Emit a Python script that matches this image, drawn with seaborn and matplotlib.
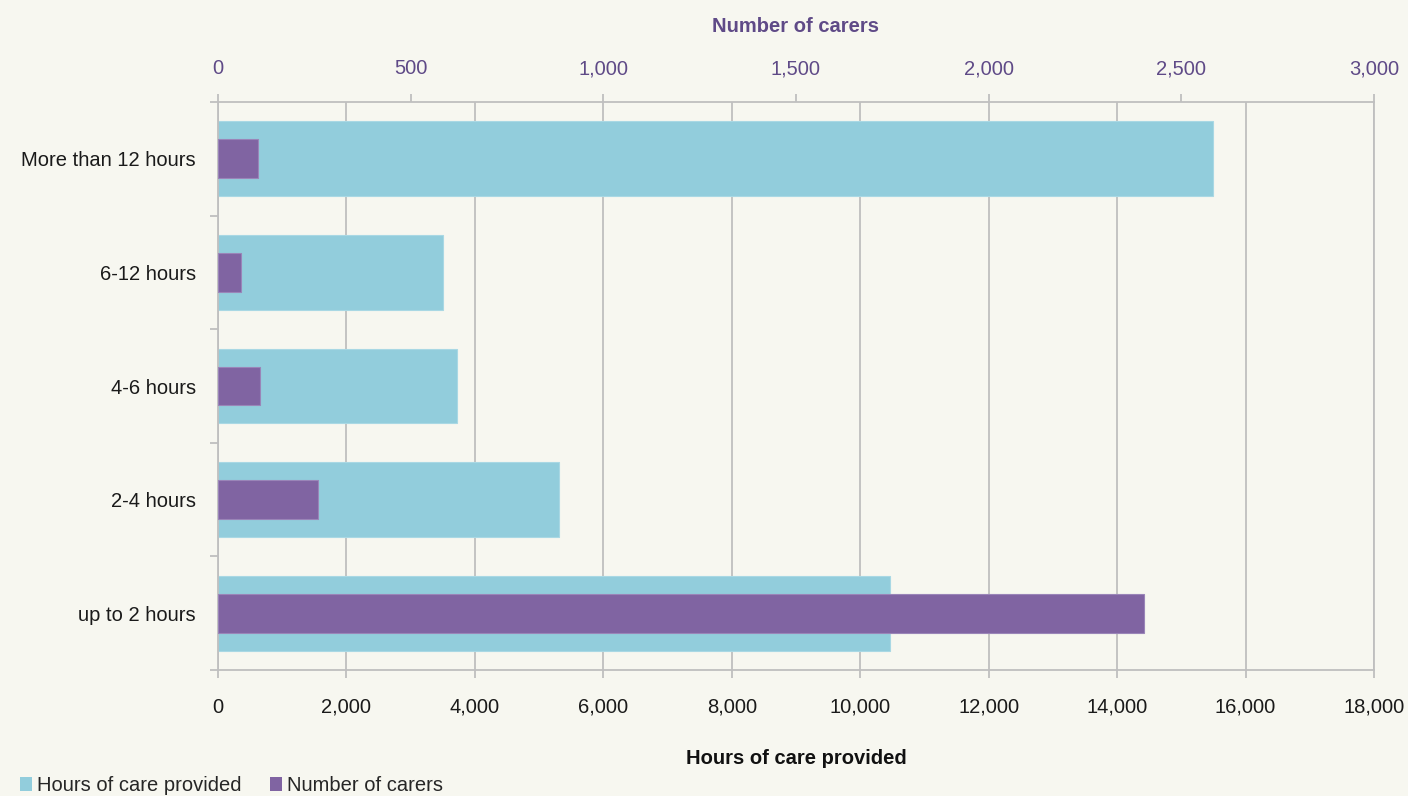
import matplotlib
matplotlib.use("Agg")
import matplotlib.pyplot as plt
import seaborn as sns
import pandas as pd
import numpy as np
from matplotlib.patches import Patch
from matplotlib.ticker import FuncFormatter, MultipleLocator, FixedLocator

categories = ["More than 12 hours", "6-12 hours", "4-6 hours", "2-4 hours", "up to 2 hours"]
hours_of_care = [15500, 3505, 3725, 5305, 10460]
number_of_carers = [104, 59, 108, 259, 2404]

BG = "#F7F7F0"
BLUE = "#92CDDC"
PURPLE = "#8064A2"
GRID = "#BFBFBF"
PURPLE_TXT = "#5F4A87"
FS = 14.5

sns.set_theme(style="white")
plt.rcParams["font.family"] = ["Liberation Sans", "DejaVu Sans"]

df = pd.DataFrame({"category": categories, "hours": hours_of_care, "carers": number_of_carers})

fig = plt.figure(figsize=(14.08, 7.96), dpi=100, facecolor=BG)
ax = fig.add_axes([218 / 1408, 1 - 670 / 796, (1374 - 218) / 1408, (670 - 102) / 796])
ax.set_facecolor(BG)

sns.barplot(data=df, x="hours", y="category", order=categories, color=BLUE,
            width=0.66, orient="h", ax=ax, zorder=2, saturation=1,
            edgecolor="#A9D8E4", linewidth=0.8)
ax.set_xlim(0, 18000)
ax.set_ylim(4.5, -0.5)
ax.xaxis.set_major_locator(MultipleLocator(2000))
ax.xaxis.set_major_formatter(FuncFormatter(lambda v, p: f"{int(v):,}"))
ax.grid(axis="x", color=GRID, linewidth=1.3, zorder=0)
ax.set_axisbelow(True)

ax2 = ax.twiny()
sns.barplot(data=df, x="carers", y="category", order=categories, color=PURPLE,
            width=0.34, orient="h", ax=ax2, zorder=3, saturation=1,
            edgecolor="#9A85B8", linewidth=0.8)
ax2.set_xlim(0, 3000)
ax2.set_ylim(4.5, -0.5)
ax2.xaxis.set_major_locator(MultipleLocator(500))
ax2.xaxis.set_major_formatter(FuncFormatter(lambda v, p: f"{int(v):,}"))
ax2.grid(False)

for a in (ax, ax2):
    for s in a.spines.values():
        s.set_color(GRID)
        s.set_linewidth(1.3)

ax.spines["right"].set_visible(True)
ax2.spines["right"].set_visible(False)
ax2.spines["left"].set_visible(False)
ax2.spines["bottom"].set_visible(False)
ax.spines["top"].set_visible(False)

ax.tick_params(axis="x", bottom=True, direction="out", length=6, width=1.3, color=GRID,
               labelsize=FS, labelcolor="#1a1a1a", pad=14)
ax.tick_params(axis="y", which="major", left=False, length=0, labelsize=FS, labelcolor="#1a1a1a", pad=16)
ax.yaxis.set_minor_locator(FixedLocator(np.arange(-0.5, 5.0, 1.0)))
ax.tick_params(axis="y", which="minor", left=True, direction="out", length=6, width=1.3, color=GRID)

ax2.tick_params(axis="x", top=True, direction="out", length=6, width=1.3, color=GRID,
                labelsize=FS, labelcolor=PURPLE_TXT, pad=11)
ax2.set_ylabel("")
ax.set_ylabel("")

ax.set_xlabel("Hours of care provided", fontsize=FS, fontweight="bold", color="#111111", labelpad=23)
ax2.set_xlabel("Number of carers", fontsize=FS, fontweight="bold", color=PURPLE_TXT, labelpad=20)

handles = [Patch(facecolor=BLUE, edgecolor="none", label="Hours of care provided"),
           Patch(facecolor=PURPLE, edgecolor="none", label="Number of carers")]
fig.legend(handles=handles, loc="lower left", bbox_to_anchor=(0.004, -0.016), ncol=2, frameon=False,
           fontsize=FS, handlelength=0.6, handleheight=0.7, handletextpad=0.25, columnspacing=1.4,
           borderpad=0.2)

fig.savefig("out.png", dpi=100, facecolor=BG)
